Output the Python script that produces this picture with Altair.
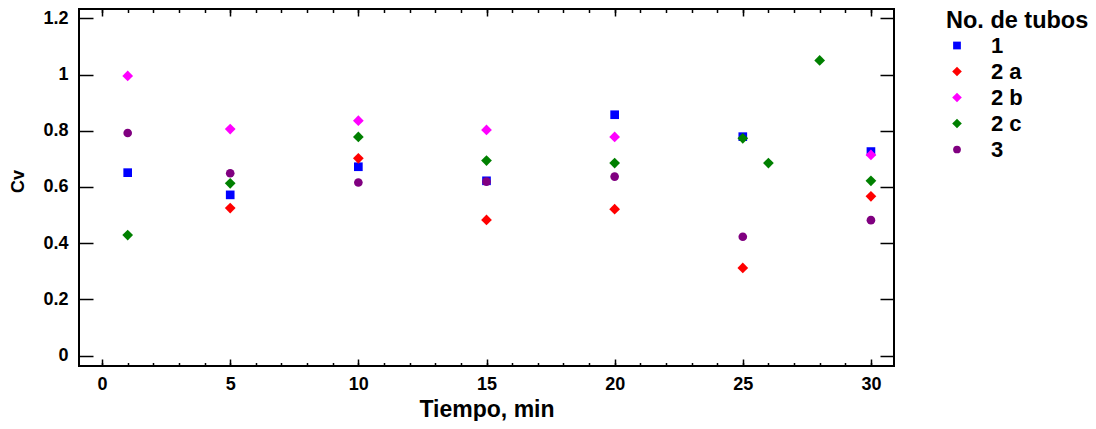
import altair as alt
import pandas as pd

series = ["1", "2 a", "2 b", "2 c", "3"]
colors = ["#0000ff", "#ff0000", "#ff00ff", "#008000", "#800080"]

t_1 = [1, 5, 10, 15, 20, 25, 30]
cv_1 = [0.651, 0.572, 0.672, 0.622, 0.857, 0.779, 0.726]
t_2a = [5, 10, 15, 20, 25, 30]
cv_2a = [0.525, 0.702, 0.483, 0.521, 0.312, 0.567]
t_2b = [1, 5, 10, 15, 20, 30]
cv_2b = [0.995, 0.806, 0.836, 0.803, 0.778, 0.714]
t_2c = [1, 5, 10, 15, 20, 25, 26, 28, 30]
cv_2c = [0.429, 0.613, 0.778, 0.694, 0.685, 0.773, 0.685, 1.050, 0.622]
t_3 = [1, 5, 10, 15, 20, 25, 30]
cv_3 = [0.792, 0.649, 0.616, 0.619, 0.637, 0.423, 0.482]

x_major = [0, 5, 10, 15, 20, 25, 30]
x_minor = list(range(0, 31))
y_major = [0, 0.2, 0.4, 0.6, 0.8, 1, 1.2]

rows = []
for name, ts, vs in [("1", t_1, cv_1), ("2 a", t_2a, cv_2a), ("2 b", t_2b, cv_2b),
                     ("2 c", t_2c, cv_2c), ("3", t_3, cv_3)]:
    for t, v in zip(ts, vs):
        rows.append({"Tiempo": t, "Cv": v, "Serie": name})
df = pd.DataFrame(rows)

FONT = "Liberation Sans"
diamond = "M0,-1.24L1.24,0L0,1.24L-1.24,0Z"
shapes = ["square", diamond, diamond, diamond, "circle"]

xs = alt.Scale(domain=[-0.9, 30.9], nice=False, zero=False)
ys = alt.Scale(domain=[-0.0366, 1.233], nice=False, zero=False)

tick_common = dict(labels=False, domain=False, title=None, grid=False, ticks=True,
                   tickColor="black", tickWidth=1.5)

points = alt.Chart(df).mark_point(filled=True, opacity=1, size=75).encode(
    x=alt.X("Tiempo:Q", scale=xs, axis=alt.Axis(
        orient="bottom", values=x_major, ticks=False, tickSize=0, domain=False, grid=False,
        labelFont=FONT, labelFontSize=18, labelFontWeight="bold", labelColor="black",
        labelPadding=9, title="Tiempo, min", titleFont=FONT, titleFontSize=23,
        titleFontWeight="bold", titleColor="black", titleBaseline="alphabetic", titleY=50)),
    y=alt.Y("Cv:Q", scale=ys, axis=alt.Axis(
        orient="left", values=y_major, format="~g", ticks=False, tickSize=0, domain=False,
        grid=False, labelFont=FONT, labelFontSize=18, labelFontWeight="bold",
        labelColor="black", labelPadding=11, title="Cv", titleFont=FONT, titleFontSize=18,
        titleFontWeight="bold", titleColor="black", titleBaseline="alphabetic",
        titleX=-56, titleY=172)),
    color=alt.Color("Serie:N", scale=alt.Scale(domain=series, range=colors),
                    legend=alt.Legend(
                        title="No. de tubos", orient="none", legendX=867, legendY=0,
                        titleFont=FONT, titleFontSize=23.5, titleFontWeight="bold",
                        titleColor="black", titlePadding=2, labelFont=FONT,
                        labelFontSize=22, labelFontWeight="bold", labelColor="black",
                        symbolSize=60, labelOffset=23, rowPadding=4,
                        symbolStrokeWidth=0)),
    shape=alt.Shape("Serie:N", scale=alt.Scale(domain=series, range=shapes), legend=None),
)

ghost = alt.Chart(df).mark_point(opacity=0)

ticks_b = ghost.encode(
    x=alt.X("Tiempo:Q", scale=xs, axis=alt.Axis(orient="bottom", values=x_major,
                                                tickSize=7, offset=-7, **tick_common)),
    y=alt.Y("Cv:Q", scale=ys, axis=alt.Axis(orient="left", values=y_major,
                                            tickSize=14, offset=-14, **tick_common)),
)
ticks_c = ghost.encode(
    x=alt.X("Tiempo:Q", scale=xs, axis=alt.Axis(orient="bottom", values=x_minor,
                                                tickSize=3.5, offset=-3.5, **tick_common)),
    y=alt.Y("Cv:Q", scale=ys, axis=alt.Axis(orient="right", values=y_major,
                                            tickSize=14, offset=-14, **tick_common)),
)
ticks_d = ghost.encode(
    x=alt.X("Tiempo:Q", scale=xs, axis=alt.Axis(orient="top", values=x_major,
                                                tickSize=7, offset=-7, **tick_common)),
    y=alt.Y("Cv:Q", scale=ys, axis=None),
)
ticks_e = ghost.encode(
    x=alt.X("Tiempo:Q", scale=xs, axis=alt.Axis(orient="top", values=x_minor,
                                                tickSize=3.5, offset=-3.5, **tick_common)),
    y=alt.Y("Cv:Q", scale=ys, axis=None),
)

chart = alt.layer(ticks_b, ticks_c, ticks_d, ticks_e, points).resolve_axis(
    x="independent", y="independent"
).properties(
    width=815, height=357,
    padding={"left": 71, "top": 1, "right": 194, "bottom": 55},
    autosize=alt.AutoSizeParams(type="none"),
    background="white",
).configure_view(stroke="black", strokeWidth=2)

chart.save("out.html", embed_options={"renderer": "svg", "actions": False})
